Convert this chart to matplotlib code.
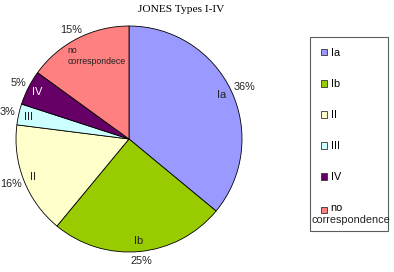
import numpy as np
import matplotlib
matplotlib.use('Agg')
from matplotlib import pyplot as plt

names = ['Ia', 'Ib', 'II', 'III', 'IV', 'no\ncorrespondece']
legend_names = ['Ia', 'Ib', 'II', 'III', 'IV', 'no\n ']
shares = [36, 25, 16, 3, 5, 15]
colors = ['#9999ff', '#99cc00', '#ffffcc', '#ccffff', '#660066', '#ff8080']
name_colors = ['#222222', '#222222', '#222222', '#222222', 'white', '#222222']

plt.rcParams['font.family'] = ['Liberation Sans', 'DejaVu Sans']

W, H = 394, 272
fig = plt.figure(figsize=(W / 100, H / 100), dpi=100)
cx, cy, r = 129, 139, 113
ax = fig.add_axes([(cx - r) / W, 1 - (cy + r) / H, 2 * r / W, 2 * r / H])

pct_labels = ['%d%%' % s for s in shares]
wedges, texts = ax.pie(shares, colors=colors, startangle=90, counterclock=False,
                       labels=pct_labels, labeldistance=1.05,
                       wedgeprops=dict(edgecolor='black', linewidth=0.6),
                       textprops=dict(fontsize=7.8, color='#222222'))

for w, n, c in zip(wedges, names, name_colors):
    mid = np.deg2rad((w.theta1 + w.theta2) / 2)
    d = 0.91
    x, y = d * np.cos(mid), d * np.sin(mid)
    if n.startswith('no'):
        ax.text(x - 0.13, y - 0.075, n, ha='left', va='center', fontsize=6.3,
                color=c, multialignment='left', linespacing=1.3)
    else:
        ax.text(x, y, n, ha='center', va='center', fontsize=8, color=c)

ax.set_xlim(-1, 1)
ax.set_ylim(-1, 1)
ax.set_aspect('equal')
ax.axis('off')

fig.text(181 / W, 1 - 9 / H, 'JONES Types I-IV', ha='center', va='center',
         fontsize=8.2, family='Liberation Serif')

leg = fig.legend(wedges, legend_names, loc='upper left',
                 bbox_to_anchor=(310 / W, 1 - 229 / H, 78 / W, 192 / H),
                 mode='expand', fontsize=7.8, handlelength=0.6, handleheight=0.6,
                 handletextpad=0.3, labelspacing=1.95, borderpad=1.0,
                 fancybox=False, frameon=True, borderaxespad=0)
leg.get_frame().set_edgecolor('#333333')
leg.get_frame().set_linewidth(0.8)
for h in leg.legend_handles:
    h.set_linewidth(0.6)
    h.set_edgecolor('#333333')
leg.texts[-1].set_linespacing(0.6)

fig.canvas.draw()

# push percentage labels out so their box just clears the pie, like Excel does
inv = ax.transData.inverted()
for w, t in zip(wedges, texts):
    mid = np.deg2rad((w.theta1 + w.theta2) / 2)
    bb = t.get_window_extent()
    p0 = inv.transform((0, 0))
    p1 = inv.transform((bb.width / 2, bb.height / 2))
    hw, hh = abs(p1[0] - p0[0]), abs(p1[1] - p0[1])
    t.set_ha('center')
    t.set_va('center')
    t.set_position((1.03 * np.cos(mid) + hw * np.cos(mid),
                    1.03 * np.sin(mid) + hh * np.sin(mid) * 1.3))

# last legend entry: handle next to "no", second line starts at the box edge
tb = leg.texts[-1].get_window_extent()
fb = leg.get_frame().get_window_extent()
no_y = tb.y1 - 6.5
rect = leg.legend_handles[-1]
hb = rect.get_window_extent()
dy = no_y - (hb.y0 + hb.y1) / 2
rect.set_y(rect.get_y() + dy * 72 / fig.dpi)
fig.text((fb.x0 + 2) / W, (no_y - 10.5) / H, 'correspondence',
         ha='left', va='center', fontsize=7.8, color='#222222', zorder=10)

fig.savefig('out.png', dpi=100)
